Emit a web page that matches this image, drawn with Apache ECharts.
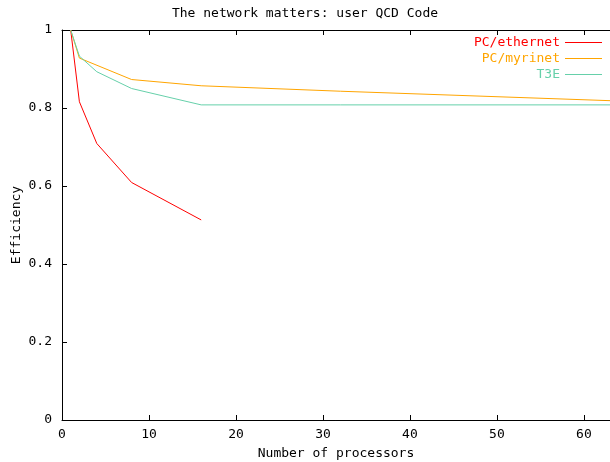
<!DOCTYPE html>
<html>
<head>
<meta charset="utf-8">
<script src="https://cdn.jsdelivr.net/npm/echarts@6/dist/echarts.min.js"></script>
<style>
  html, body { margin: 0; padding: 0; background: #fff; }
  #chart { width: 610px; height: 462px; }
</style>
</head>
<body>
<div id="chart"></div>
<script>
// values
var ethernetX = [1, 2, 4, 8, 16]
var ethernetY = [1, 0.816, 0.709, 0.609, 0.513]

var myrinetX = [1, 2, 8, 16, 32, 64]
var myrinetY = [1, 0.928, 0.873, 0.857, 0.843, 0.818]

var t3eX = [1, 2, 4, 8, 16, 32, 64]
var t3eY = [1, 0.933, 0.893, 0.850, 0.808, 0.808, 0.808]

var yTicks = [0, 0.2, 0.4, 0.6, 0.8, 1]

function pairs(xs, ys) {
  return xs.map(function (x, i) { return [x, ys[i]] })
}

var font = 'DejaVu Sans Mono'
var chart = echarts.init(document.getElementById('chart'))

chart.setOption({
  animation: false,
  backgroundColor: '#fff',
  textStyle: { fontFamily: font },
  title: {
    text: 'The network matters: user QCD Code',
    left: 'center',
    top: 2,
    textStyle: { fontFamily: font, fontSize: 13, fontWeight: 'normal', color: '#000' }
  },
  legend: {
    orient: 'vertical',
    right: 3,
    top: 31,
    align: 'right',
    itemWidth: 37,
    itemHeight: 1,
    itemGap: 3,
    icon: 'rect',
    textStyle: { fontFamily: font, fontSize: 13, color: 'inherit' },
    data: ['PC/ethernet', 'PC/myrinet', 'T3E']
  },
  grid: { left: 62, right: 0, top: 30, bottom: 42, outerBoundsMode: 'none', containLabel: false },
  xAxis: [{
    type: 'value',
    min: 0,
    max: 63,
    interval: 10,
    name: 'Number of processors',
    nameLocation: 'middle',
    nameGap: 27,
    nameMoveOverlap: false,
    nameTextStyle: { fontFamily: font, fontSize: 13, color: '#000' },
    axisLine: { lineStyle: { color: '#000', width: 1 } },
    axisTick: { inside: true, length: 5, lineStyle: { color: '#000' } },
    axisLabel: { fontFamily: font, fontSize: 13, color: '#000', margin: 8, showMaxLabel: false },
    splitLine: { show: false }
  }, {
    type: 'value',
    position: 'top',
    min: 0,
    max: 63,
    interval: 10,
    axisLine: { lineStyle: { color: '#000', width: 1 } },
    axisTick: { inside: true, length: 5, lineStyle: { color: '#000' } },
    axisLabel: { show: false },
    splitLine: { show: false }
  }],
  yAxis: {
    type: 'value',
    min: 0,
    max: 1,
    interval: 0.2,
    name: 'Efficiency',
    nameLocation: 'middle',
    nameGap: 39,
    nameMoveOverlap: false,
    nameTextStyle: { fontFamily: font, fontSize: 13, color: '#000' },
    axisLine: { show: true, lineStyle: { color: '#000', width: 1 } },
    axisTick: { show: true, inside: true, length: 5, lineStyle: { color: '#000' } },
    axisLabel: {
      fontFamily: font, fontSize: 13, color: '#000', margin: 10,
      formatter: function (v) {
        var t = yTicks.find(function (k) { return Math.abs(k - v) < 1e-9 })
        return t === undefined ? '' : String(t)
      }
    },
    splitLine: { show: false }
  },
  series: [{
    name: 'PC/ethernet',
    type: 'line',
    color: '#ff0000',
    showSymbol: false,
    lineStyle: { width: 1 },
    data: pairs(ethernetX, ethernetY)
  }, {
    name: 'PC/myrinet',
    type: 'line',
    color: '#ffa500',
    showSymbol: false,
    lineStyle: { width: 1 },
    data: pairs(myrinetX, myrinetY)
  }, {
    name: 'T3E',
    type: 'line',
    color: '#66d0aa',
    showSymbol: false,
    lineStyle: { width: 1 },
    data: pairs(t3eX, t3eY)
  }]
})
</script>
</body>
</html>
